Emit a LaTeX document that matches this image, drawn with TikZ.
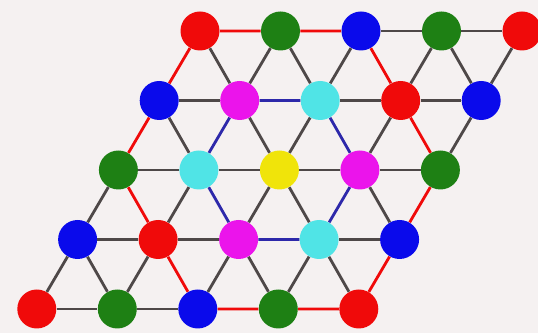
\documentclass[tikz,border=0pt]{standalone}
\usepackage{tikz}

\definecolor{sred}{RGB}{240,10,10}
\definecolor{sgreen}{RGB}{30,128,20}
\definecolor{sblue}{RGB}{10,10,235}
\definecolor{smag}{RGB}{235,20,235}
\definecolor{scyan}{RGB}{80,228,230}
\definecolor{syel}{RGB}{240,228,10}
\definecolor{bgray}{RGB}{78,72,72}
\definecolor{bblue}{RGB}{45,40,170}
\definecolor{paper}{RGB}{245,241,241}

\begin{document}
\begin{tikzpicture}[
  x=0.02cm, y=-0.02cm,
  site/.style={circle, minimum size=0.78cm, inner sep=0pt, draw=none},
  R/.style={site, fill=sred},
  G/.style={site, fill=sgreen},
  B/.style={site, fill=sblue},
  M/.style={site, fill=smag},
  C/.style={site, fill=scyan},
  Y/.style={site, fill=syel},
  bond/.style={line width=1.6pt, draw=bgray},
  rbond/.style={bond, draw=sred},
  bbond/.style={bond, draw=bblue}
]
\clip (0,0) rectangle (538,333);
\fill[paper] (0,0) rectangle (538,333);

% top row
\node[R] (a1) at (200,31) {};
\node[G] (a2) at (280.5,31) {};
\node[B] (a3) at (361,31) {};
\node[G] (a4) at (441.5,31) {};
\node[R] (a5) at (522,31) {};
% second row
\node[B] (b1) at (159.2,100.5) {};
\node[M] (b2) at (239.7,100.5) {};
\node[C] (b3) at (320.2,100.5) {};
\node[R] (b4) at (400.7,100.5) {};
\node[B] (b5) at (481.2,100.5) {};
% middle row
\node[G] (c1) at (118.4,170) {};
\node[C] (c2) at (198.9,170) {};
\node[Y] (c3) at (279.4,170) {};
\node[M] (c4) at (359.9,170) {};
\node[G] (c5) at (440.4,170) {};
% fourth row
\node[B] (d1) at (77.6,239.5) {};
\node[R] (d2) at (158.1,239.5) {};
\node[M] (d3) at (238.6,239.5) {};
\node[C] (d4) at (319.1,239.5) {};
\node[B] (d5) at (399.6,239.5) {};
% bottom row
\node[R] (e1) at (36.8,309) {};
\node[G] (e2) at (117.3,309) {};
\node[B] (e3) at (197.8,309) {};
\node[G] (e4) at (278.3,309) {};
\node[R] (e5) at (358.8,309) {};

% plain bonds
\draw[bond] (a3) -- (a4) (a4) -- (a5) (b1) -- (b2) (b3) -- (b4) (b4) -- (b5)
  (c1) -- (c2) (c2) -- (c3) (c3) -- (c4) (c4) -- (c5)
  (d1) -- (d2) (d2) -- (d3) (d4) -- (d5) (e1) -- (e2) (e2) -- (e3);
\draw[bond] (a1) -- (b2) (a2) -- (b2) (a2) -- (b3) (a3) -- (b3) (a4) -- (b4)
  (a4) -- (b5) (a5) -- (b5)
  (b1) -- (c2) (b2) -- (c3) (b3) -- (c3) (b4) -- (c4) (b5) -- (c5)
  (c1) -- (d1) (c2) -- (d2) (c3) -- (d3) (c3) -- (d4) (c4) -- (d5)
  (d1) -- (e1) (d1) -- (e2) (d2) -- (e2) (d3) -- (e3) (d3) -- (e4)
  (d4) -- (e4) (d4) -- (e5);
% outer red ring
\draw[rbond] (a1) -- (a2) (a2) -- (a3) (a3) -- (b4) (b4) -- (c5) (c5) -- (d5)
  (d5) -- (e5) (e5) -- (e4) (e4) -- (e3) (e3) -- (d2) (d2) -- (c1)
  (c1) -- (b1) (b1) -- (a1);
% inner blue ring
\draw[bbond] (b2) -- (b3) (b3) -- (c4) (c4) -- (d4) (d4) -- (d3) (d3) -- (c2)
  (c2) -- (b2);
\end{tikzpicture}
\end{document}
